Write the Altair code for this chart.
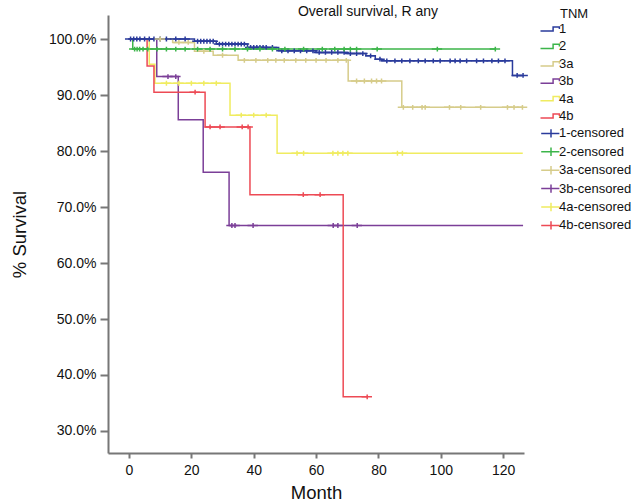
import altair as alt
import pandas as pd

FONT = "Liberation Sans"

groups = ["1", "2", "3a", "3b", "4a", "4b"]
colors = ["#2a3b9c", "#3cb54a", "#d6cc8a", "#7b3f98", "#f0ec60", "#ed4a55"]

# Kaplan-Meier step curves: month / survival (%)
t1 = [0, 21, 28, 38, 48, 60, 70, 76, 79, 81, 123, 126.4]
v1 = [100, 99.6, 99.1, 98.5, 97.9, 97.6, 97.4, 97.0, 96.4, 96.1, 93.5, 93.5]
t2 = [0, 1.2, 117.5]
v2 = [100, 98.2, 98.2]
t3a = [0, 14, 21, 27, 35, 70.3, 87.5, 126.2]
v3a = [100, 99.4, 97.8, 97.1, 96.2, 92.5, 87.8, 87.8]
t3b = [0, 8.9, 15.8, 23.8, 32.1, 126.4]
v3b = [100, 93.3, 85.6, 76.2, 66.7, 66.7]
t4a = [0, 6.5, 8.3, 32.4, 47.5, 126.3]
v4a = [100, 95.5, 92.1, 86.4, 79.6, 79.6]
t4b = [0, 5.8, 8.0, 24.4, 38.8, 68.7, 76.4]
v4b = [100, 95.2, 90.5, 84.3, 72.2, 36.1, 36.1]

# censoring times (months)
c1 = [0.5, 1.5, 2.5, 3.5, 5, 6.5, 8, 10, 12, 15, 18, 22, 23, 24, 25, 26, 27, 29, 30,
      31, 32, 33, 34, 35, 36, 37, 39, 40, 41, 42, 43, 44, 46, 49, 51, 53, 55, 57, 59,
      61, 63, 65, 67, 69, 71, 73, 75, 77.5, 80.5, 82.7, 85.3, 87.5, 90.1, 92.8, 95,
      97.6, 99.8, 103, 104.6, 106.2, 108.3, 111.5, 113.7, 116.4, 118.5, 120.6, 124.5, 126.4]
c2 = [1.8, 2.6, 3.4, 4.5, 6, 9, 12, 15, 18, 22, 26, 30, 34, 38, 42, 46, 50, 56, 62,
      66, 69, 71, 73, 79.6, 98.9, 117.5]
c3a = [10, 16, 19, 24, 30, 37, 40.7, 44.5, 47.1, 49.8, 53.5, 56.7, 60, 63.2, 67, 69.7,
       73, 75.5, 77.8, 79.4, 81, 88, 91, 94, 95, 102.8, 106.4, 112.8, 121.4, 123.5, 126.2]
c3b = [12.5, 15, 33, 34, 39.8, 65.5, 67, 73.2]
c4a = [12, 16, 20, 24, 28, 36, 40, 44, 53.9, 56, 65.4, 67, 68.6, 70.2, 86.1, 87.7]
c4b = [21.2, 26, 29.2, 36.3, 38.2, 55.9, 61.3, 76.4]

x_ticks = [0, 20, 40, 60, 80, 100, 120]
y_ticks = [30, 40, 50, 60, 70, 80, 90, 100]

curves = {"1": (t1, v1, c1), "2": (t2, v2, c2), "3a": (t3a, v3a, c3a),
          "3b": (t3b, v3b, c3b), "4a": (t4a, v4a, c4a), "4b": (t4b, v4b, c4b)}


def surv_at(ts, vs, m):
    val = vs[0]
    for t, v in zip(ts, vs):
        if t <= m:
            val = v
    return val


line_rows, cens_rows = [], []
for g, (ts, vs, cs) in curves.items():
    for t, v in zip(ts, vs):
        line_rows.append({"month": t, "surv": v, "series": g})
    for c in cs:
        cens_rows.append({"month": c, "surv": surv_at(ts, vs, c), "series": g + "-censored"})

lines_df = pd.DataFrame(line_rows)
cens_df = pd.DataFrame(cens_rows)

domain = groups + [g + "-censored" for g in groups]
step_path = "M-1.5,0.3L0.3,0.3L0.3,-0.3L1.2,-0.3L1.2,0"
cross_path = "M-1.4,0L1.2,0M0,-0.6L0,0.6"

color_scale = alt.Scale(domain=domain, range=colors + colors)
shape_scale = alt.Scale(domain=domain, range=[step_path] * 6 + [cross_path] * 6)

legend = alt.Legend(title="TNM", orient="none", legendX=452, legendY=-7,
                    labelFont=FONT, titleFont=FONT, labelFontSize=13, titleFontSize=13,
                    titleFontWeight="normal", labelColor="#111", titleColor="#111",
                    symbolSize=196, symbolStrokeWidth=1.5, rowPadding=2.4,
                    symbolOffset=-17, labelOffset=0, padding=0, titlePadding=0)

x_enc = alt.X("month:Q", scale=alt.Scale(domain=[-6.74, 126.7], nice=False, zero=False),
              axis=alt.Axis(values=x_ticks, title="Month", tickSize=5, labelPadding=5,
                            titlePadding=6, labelFontSize=14, titleFontSize=18.5))
y_enc = alt.Y("surv:Q", scale=alt.Scale(domain=[26.07, 104.29], nice=False, zero=False),
              axis=alt.Axis(values=y_ticks, title="% Survival", tickSize=8, labelPadding=4,
                            labelExpr="format(datum.value, '.1f') + '%'",
                            titlePadding=19, labelFontSize=14, titleFontSize=18.5))

lines = alt.Chart(lines_df).mark_line(interpolate="step-after", strokeWidth=1.5).encode(
    x=x_enc, y=y_enc,
    color=alt.Color("series:N", scale=color_scale, legend=legend),
)

points = alt.Chart(cens_df).mark_point(filled=False, size=64, strokeWidth=1.5, opacity=1).encode(
    x=x_enc, y=y_enc,
    color=alt.Color("series:N", scale=color_scale, legend=legend),
    shape=alt.Shape("series:N", scale=shape_scale, legend=legend),
)

chart = alt.layer(lines, points).properties(
    width=416, height=438,
    autosize=alt.AutoSizeParams(type="none"),
    padding={"left": 108, "top": 15, "right": 116, "bottom": 50},
    title=alt.TitleParams("Overall survival, R any", font=FONT, fontSize=14,
                          fontWeight="normal", color="#111", anchor="middle",
                          dx=52, offset=-11),
).configure_view(stroke=None).configure_axis(
    grid=False, domainColor="#777", domainWidth=2, tickColor="#777", tickWidth=2,
    labelFont=FONT, titleFont=FONT, labelColor="#111", titleColor="#111",
    titleFontWeight="normal",
)

chart.save("out.html", embed_options={"renderer": "svg", "actions": False})
